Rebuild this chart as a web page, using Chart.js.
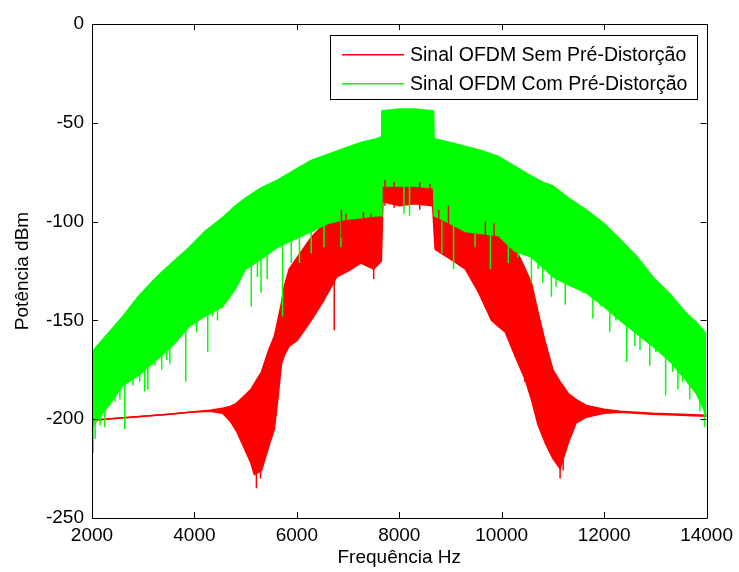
<!DOCTYPE html>
<html>
<head>
<meta charset="utf-8">
<title>Espectro OFDM</title>
<script src="https://cdn.jsdelivr.net/npm/chart.js@4.4.1/dist/chart.umd.min.js"></script>
<style>
  html, body { margin: 0; padding: 0; background: #fff; }
  #wrap { width: 739px; height: 572px; }
</style>
</head>
<body>
<div id="wrap"><canvas id="spectrum"></canvas></div>
<script>
// axis ticks
const xTicks = [2000, 4000, 6000, 8000, 10000, 12000, 14000];
const yTicks = [0, -50, -100, -150, -200, -250];

// red: sinal sem pre-distorcao, upper/lower edge of the spectrum band (dBm)
const semFreq = [2000, 2500, 3000, 3500, 3900, 4300, 4550, 4700, 4820, 4980, 5100, 5170, 5310,
  5450, 5560, 5620, 5700, 5750, 5850, 6010, 6280, 6500, 6780, 7000, 7250, 7500, 7650, 7680,
  8000, 8300, 8650, 8700, 9000, 9290, 9550, 9800, 9935, 10070, 10260, 10460, 10580, 10710,
  10850, 11000, 11140, 11300, 11450, 11650, 12000, 12310, 12950, 13500, 14000];
const semTop = [-200.5, -199.5, -198.5, -197.5, -196.5, -195.5, -194.5, -193.5, -192, -188, -185, -182, -176,
  -165, -158, -151, -141, -133, -124, -118, -108, -102, -95, -95, -95, -96, -96, -80,
  -79, -80, -81, -94, -99, -104, -103, -104, -105, -109, -113, -124, -131, -146,
  -161, -175, -181, -187, -190, -193, -195, -196, -197, -197.5, -198];
const semBottom = [-200.5, -199.5, -198.5, -197.5, -196.5, -196, -197, -201, -206, -215, -222, -228, -226,
  -214, -205, -192, -172, -168, -163, -160, -150, -141, -128, -125, -121, -124, -120, -90,
  -92, -91, -92, -114, -119, -124, -136, -150, -153, -156, -168, -180, -190, -203,
  -212, -220, -225, -212, -202, -199, -197, -196.5, -197.5, -198, -198.5];
// deep red strokes below the band
const semSpikeFreq = [5210, 5290, 6730, 7500, 10450, 11140, 11200];
const semSpikeTop = [-225, -220, -128, -118, -170, -220, -215];
const semSpikeLow = [-235, -230, -155, -129, -181, -230, -226];
// red strokes that show through the green band
const semPeekFreq = [6870, 6960, 7300, 7450, 7720, 7900, 8400, 8600, 8770, 8960, 9680, 9850];
const semPeekTop = [-94, -96, -95, -96, -79, -80, -80, -81, -94, -92, -100, -101];
const semPeekLow = [-108, -106, -104, -110, -92, -93, -94, -92, -104, -106, -112, -110];

// green: sinal com pre-distorcao
const comFreq = [2000, 2300, 2600, 2900, 3260, 3600, 3900, 4200, 4550, 4800, 5000, 5300, 5620,
  5950, 6280, 6600, 6920, 7250, 7560, 7650, 7660, 8000, 8300, 8670, 8680, 9000, 9290, 9600,
  9935, 10260, 10580, 10800, 11000, 11300, 11650, 12000, 12310, 12650, 12950, 13300, 13590,
  13800, 14000];
const comTop = [-166, -157, -148, -138, -128, -120, -113, -105, -98, -92, -88, -83, -79,
  -74, -69, -66, -63, -60, -58, -57, -44, -43, -43, -44, -58, -60, -62, -64,
  -67, -72, -77, -80, -82, -88, -94, -101, -109, -118, -128, -137, -146,
  -151, -157];
const comBottom = [-204, -194, -183, -178, -170, -162, -153, -148, -143, -134, -124, -119, -113,
  -109, -105, -101, -99, -98, -97, -97, -82, -82, -82, -83, -97, -101, -105, -106,
  -107, -115, -118, -123, -128, -132, -136, -143, -150, -157, -163, -171, -180,
  -187, -198];
const comSpikeFreq = [2020, 2060, 2160, 2250, 2350, 2450, 2545, 2640, 2800, 2930, 3030, 3090,
  3230, 3360, 3460, 3520, 3650, 3830, 3900, 4040, 4100, 4260, 4350, 4450, 4630, 4820,
  5110, 5230, 5300, 5420, 5720, 5890, 6050, 6280, 6530, 6860, 8090, 8200, 8830, 9060,
  9480, 9780, 10130, 10320, 10580, 10710, 10800, 10970, 11060, 11160, 11240, 11400,
  11590, 11780, 11940, 12110, 12230, 12440, 12600, 12700, 12890, 13010, 13200, 13340,
  13440, 13530, 13670, 13770, 13870, 13960];
const comSpikeTop = [-190, -195, -192, -185, -185, -182, -180, -175, -170, -170, -165, -168,
  -162, -160, -158, -155, -150, -145, -145, -140, -140, -138, -138, -135, -128, -122,
  -115, -115, -112, -112, -106, -104, -102, -100, -98, -97, -80, -80, -100, -98,
  -103, -100, -104, -106, -110, -112, -114, -118, -122, -120, -125, -125,
  -128, -128, -135, -135, -140, -142, -145, -150, -152, -155, -160, -162,
  -165, -168, -172, -175, -180, -185];
const comSpikeLow = [-217, -210, -203, -204, -193, -191, -190, -205, -183, -181, -186, -185,
  -173, -175, -170, -172, -158, -181, -153, -156, -150, -166, -148, -150, -133, -128,
  -143, -128, -136, -129, -148, -121, -121, -116, -113, -113, -96, -97, -116, -124,
  -113, -124, -121, -118, -131, -124, -131, -138, -133, -128, -142, -131,
  -136, -149, -143, -156, -150, -171, -163, -165, -173, -166, -188, -176,
  -185, -181, -190, -183, -196, -204];

const RED = "#ff0000";
const GREEN = "#00ff00";
const FONT = "'Liberation Sans', Arial, sans-serif";

function toPoints(freq, values) {
  return freq.map((f, i) => ({ x: f, y: values[i] }));
}

// vertical strokes, separated by gaps
function toSpikes(freq, top, low) {
  const pts = [];
  freq.forEach((f, i) => {
    pts.push({ x: f, y: top[i] });
    pts.push({ x: f, y: low[i] });
    pts.push({ x: f, y: null });
  });
  return pts;
}

// MATLAB style box, inward ticks and legend inside the axes
const matlabAxes = {
  id: "matlabAxes",
  afterDatasetsDraw(chart) {
    const { ctx, chartArea: a, scales } = chart;
    const tick = 6;
    ctx.save();
    ctx.strokeStyle = "#000";
    ctx.lineWidth = 1;
    ctx.beginPath();
    ctx.rect(Math.round(a.left) + 0.5, Math.round(a.top) + 0.5,
      Math.round(a.right - a.left), Math.round(a.bottom - a.top));
    xTicks.forEach((v) => {
      const px = Math.round(scales.x.getPixelForValue(v)) + 0.5;
      ctx.moveTo(px, a.bottom);
      ctx.lineTo(px, a.bottom - tick);
      ctx.moveTo(px, a.top);
      ctx.lineTo(px, a.top + tick);
    });
    yTicks.forEach((v) => {
      const py = Math.round(scales.y.getPixelForValue(v)) + 0.5;
      ctx.moveTo(a.left, py);
      ctx.lineTo(a.left + tick, py);
      ctx.moveTo(a.right, py);
      ctx.lineTo(a.right - tick, py);
    });
    ctx.stroke();

    // legend
    const items = chart.data.datasets.filter((d) => d.legendColor);
    ctx.font = "19.5px " + FONT;
    const textW = Math.max(...items.map((d) => ctx.measureText(d.label).width));
    const w = Math.round(80 + textW + 10);
    const h = 64;
    const bx = Math.round(a.right - 10 - w);
    const by = Math.round(a.top + 11);
    ctx.fillStyle = "#fff";
    ctx.fillRect(bx, by, w, h);
    ctx.strokeStyle = "#000";
    ctx.strokeRect(bx + 0.5, by + 0.5, w, h);
    ctx.textBaseline = "middle";
    items.forEach((d, i) => {
      const ry = by + 19 + i * 29;
      ctx.fillStyle = d.legendColor;
      ctx.fillRect(bx + 12, ry, 62, 1.5);
      ctx.fillStyle = "#000";
      ctx.fillText(d.label, bx + 80, ry + 1.5);
    });
    ctx.restore();
  },
};

const ctx = document.getElementById("spectrum").getContext("2d");
new Chart(ctx, {
  type: "line",
  data: {
    datasets: [
      {
        label: "Sinal OFDM Sem Pré-Distorção",
        legendColor: RED,
        data: toPoints(semFreq, semTop),
        borderColor: RED,
        borderWidth: 1.5,
        order: 2,
      },
      {
        label: "sem_bottom",
        data: toPoints(semFreq, semBottom),
        borderColor: RED,
        backgroundColor: RED,
        borderWidth: 1.5,
        fill: 0,
        order: 2,
      },
      {
        label: "sem_spikes",
        data: toSpikes(semSpikeFreq, semSpikeTop, semSpikeLow),
        borderColor: RED,
        borderWidth: 1.5,
        order: 2,
      },
      {
        label: "Sinal OFDM Com Pré-Distorção",
        legendColor: GREEN,
        data: toPoints(comFreq, comTop),
        borderColor: GREEN,
        borderWidth: 1.5,
        order: 1,
      },
      {
        label: "com_bottom",
        data: toPoints(comFreq, comBottom),
        borderColor: GREEN,
        backgroundColor: GREEN,
        borderWidth: 1.5,
        fill: 3,
        order: 1,
      },
      {
        label: "com_spikes",
        data: toSpikes(comSpikeFreq, comSpikeTop, comSpikeLow),
        borderColor: GREEN,
        borderWidth: 1.5,
        order: 1,
      },
      {
        label: "sem_peek",
        data: toSpikes(semPeekFreq, semPeekTop, semPeekLow),
        borderColor: RED,
        borderWidth: 1.5,
        order: 0,
      },
    ],
  },
  options: {
    responsive: true,
    maintainAspectRatio: false,
    animation: false,
    spanGaps: false,
    elements: {
      point: { radius: 0, hoverRadius: 0 },
      line: { tension: 0 },
    },
    layout: { padding: { top: 24, right: 29, left: 0, bottom: 0 } },
    plugins: {
      legend: { display: false },
      tooltip: { enabled: false },
    },
    scales: {
      x: {
        type: "linear",
        min: 2000,
        max: 14000,
        offset: false,
        afterBuildTicks: (s) => { s.ticks = xTicks.map((v) => ({ value: v })); },
        afterFit: (s) => { s.height = 54; },
        grid: { display: false, drawTicks: false, offset: false },
        border: { display: false },
        ticks: {
          color: "#000",
          padding: 6,
          maxRotation: 0,
          font: { family: FONT, size: 19 },
          callback: (v) => String(v),
        },
        title: {
          display: true,
          text: "Frequência Hz",
          color: "#000",
          font: { family: FONT, size: 19 },
          padding: { top: 0, bottom: 3 },
        },
      },
      y: {
        type: "linear",
        min: -250,
        max: 0,
        afterBuildTicks: (s) => { s.ticks = yTicks.map((v) => ({ value: v })); },
        afterFit: (s) => { s.width = 92; },
        grid: { display: false, drawTicks: false },
        border: { display: false },
        ticks: {
          color: "#000",
          padding: 8,
          font: { family: FONT, size: 19 },
          callback: (v) => String(v),
        },
        title: {
          display: true,
          text: "Potência dBm",
          color: "#000",
          font: { family: FONT, size: 19 },
          padding: { top: 11, bottom: 0 },
        },
      },
    },
  },
  plugins: [matlabAxes],
});
</script>
</body>
</html>
